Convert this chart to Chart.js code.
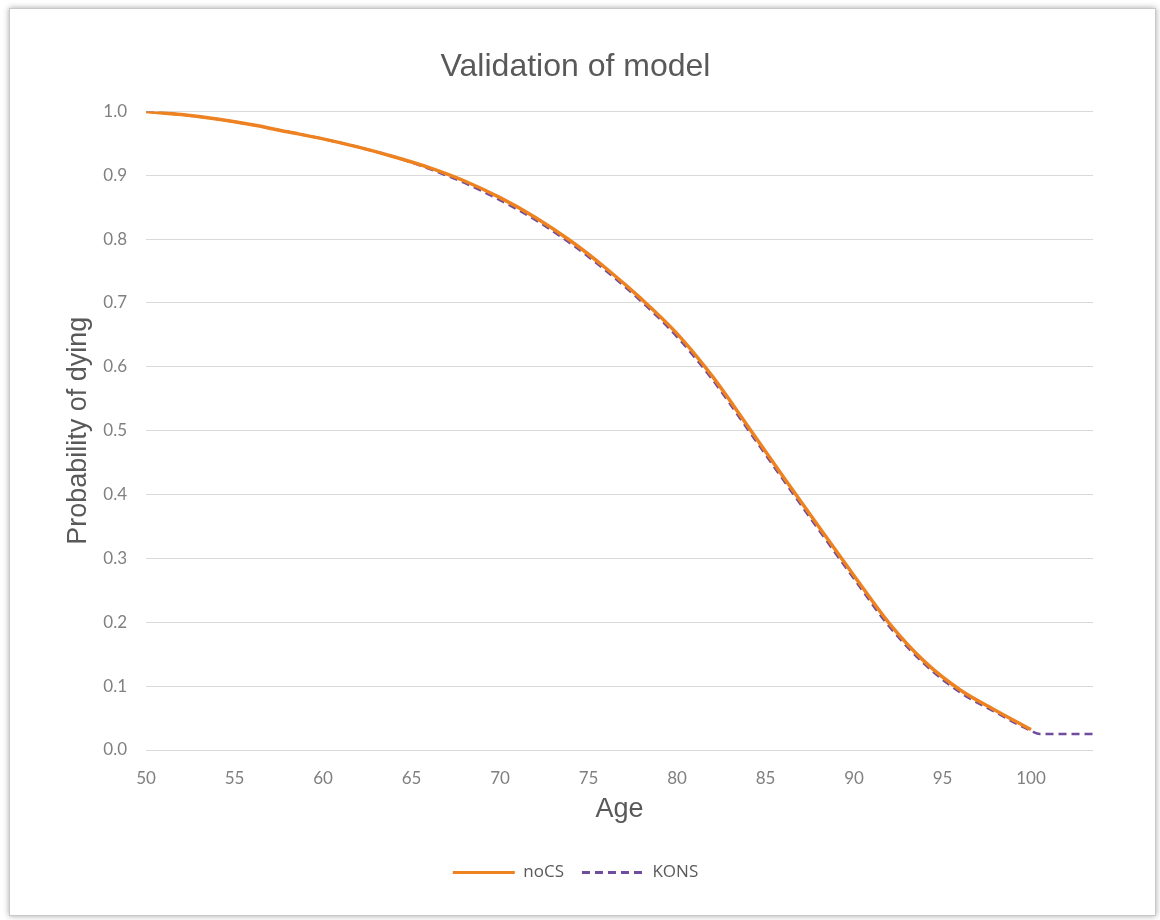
<!DOCTYPE html>
<html>
<head>
<meta charset="utf-8">
<script src="https://cdn.jsdelivr.net/npm/chart.js@4.4.1/dist/chart.umd.min.js"></script>
<style>
html,body{margin:0;padding:0;background:#fff;}
#wrap{position:relative;width:1160px;height:920px;}
#frame{position:absolute;left:9px;top:8px;width:1145px;height:906px;border:1px solid #c9c9c9;box-shadow:0 0 6px rgba(0,0,0,.35);background:#fff;}
#chart{position:absolute;left:0;top:0;}
</style>
</head>
<body>
<div id="wrap">
<div id="frame"></div>
<canvas id="chart" width="1160" height="920"></canvas>
</div>
<script>

const ages = [50,52,54,56,58,60,62,64,66,68,70,72,74,76,78,80,82,84,86,88,90,92,94,96,98,100];

const noCS = [1.000,0.995,0.988,0.979,0.968,0.957,0.944,0.929,0.912,0.891,0.865,0.834,0.797,0.754,0.706,0.652,0.585,0.507,0.428,0.350,0.273,0.198,0.138,0.094,0.062,0.032];

const konsAges = [50,52,54,56,58,60,62,64,66,68,70,72,74,76,78,80,82,84,86,88,90,92,94,96,98,100,100.5,103.5];

const kons = [1.000,0.995,0.988,0.979,0.968,0.957,0.944,0.929,0.910,0.888,0.861,0.830,0.793,0.750,0.702,0.647,0.580,0.502,0.423,0.345,0.268,0.193,0.134,0.090,0.059,0.030,0.025,0.025];

const seriesNames = ["noCS","KONS"];

const textGrey = "#595959";
const tickGrey = "#808080";

function toPoints(xs,ys){
return xs.map((x,i)=>({x:x,y:ys[i]}));
}

new Chart(document.getElementById("chart"),{
type:"line",
data:{
datasets:[{
label:seriesNames[0],
data:toPoints(ages,noCS),
borderColor:"#EE8220",
backgroundColor:"#EE8220",
borderWidth:3.5,
pointRadius:0,
cubicInterpolationMode:"monotone",
fill:false
},{
label:seriesNames[1],
data:toPoints(konsAges,kons),
borderColor:"#6F4C9E",
backgroundColor:"#6F4C9E",
borderWidth:2.5,
borderDash:[8,5],
pointRadius:0,
cubicInterpolationMode:"monotone",
fill:false
}]
},
options:{
responsive:false,
animation:false,
layout:{
padding:{top:42,left:58,right:67,bottom:29}
},
plugins:{
title:{
display:true,
text:"Validation of model",
color:textGrey,
font:{family:"Liberation Sans",size:32,weight:"normal"},
padding:{top:6,bottom:25}
},
legend:{
position:"bottom",
labels:{
usePointStyle:true,
pointStyle:"line",
pointStyleWidth:62,
boxHeight:3,
color:textGrey,
font:{family:"Open Sans",size:17},
padding:18,
generateLabels:chart=>{
const items=Chart.defaults.plugins.legend.labels.generateLabels(chart);
items.forEach(item=>{
const ds=chart.data.datasets[item.datasetIndex];
item.lineDash=ds.borderDash||[];
item.lineWidth=3;
item.strokeStyle=ds.borderColor;
});
return items;
}
}
},
tooltip:{enabled:false}
},
scales:{
x:{
type:"linear",
min:50,
max:103.5,
grid:{display:false,drawTicks:false},
border:{display:false},
ticks:{
stepSize:5,
includeBounds:false,
color:tickGrey,
font:{family:"Lato",size:17},
padding:18
},
title:{
display:true,
text:"Age",
color:textGrey,
font:{family:"Liberation Sans",size:27},
padding:{top:5,bottom:20}
},
afterFit:scale=>{scale.height=96;}
},
y:{
min:0,
max:1,
grid:{color:"#d9d9d9",lineWidth:1,drawTicks:false},
border:{display:false},
ticks:{
stepSize:0.1,
color:tickGrey,
font:{family:"Lato",size:17},
padding:19,
callback:v=>v.toFixed(1)
},
title:{
display:true,
text:"Probability of dying",
color:textGrey,
font:{family:"Liberation Sans",size:27},
padding:{top:4,bottom:4}
},
afterFit:scale=>{scale.width=88;}
}
}
}
});
</script>
</body>
</html>
